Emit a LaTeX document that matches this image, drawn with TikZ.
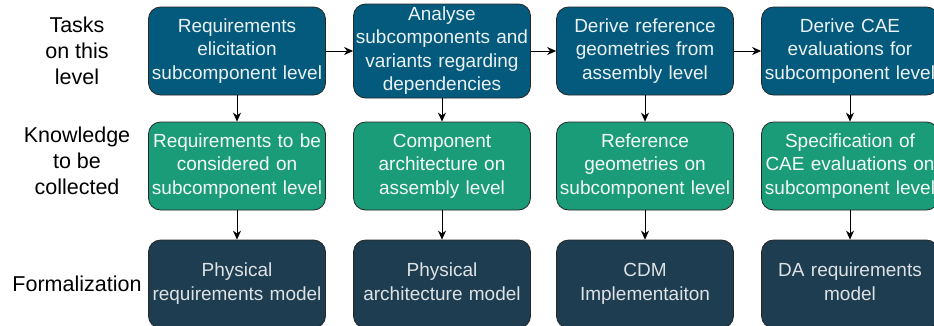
\documentclass[tikz,border=0pt]{standalone}
\usepackage{fontspec}
\setmainfont{Liberation Sans}
\usetikzlibrary{arrows.meta}
\definecolor{taskblue}{HTML}{045A7C}
\definecolor{knowgreen}{HTML}{1B9C78}
\definecolor{formnavy}{HTML}{1E3D51}
\begin{document}
\begin{tikzpicture}[x=1pt,y=-1pt,
    box/.style={draw=black!85,line width=0.8pt,rounded corners=12pt,
      minimum width=175pt,minimum height=88pt,inner sep=0pt,
      text width=177pt,align=center,font=\fontsize{19}{23.5}\selectfont,
      execute at begin node=\strut,execute at end node=\strut},
    task/.style={box,fill=taskblue,text=white!92!taskblue},
    know/.style={box,fill=knowgreen,text=white!95!knowgreen},
    form/.style={box,fill=formnavy,text=white!85!formnavy},
    rowlabel/.style={align=center,font=\fontsize{21.5}{26}\selectfont},
    flow/.style={-{Stealth[length=9pt,width=8pt]},line width=0.8pt}]
  \useasboundingbox (0,0) rectangle (934,325);
  \draw
    (77,51) node[rowlabel] (lt){Tasks\\on this\\level}
    (77,161) node[rowlabel] (lk){Knowledge\\to be\\collected}
    (77,284) node[rowlabel] (lf){Formalization};
  \draw
    (237,51) node[task] (t1){Requirements\\elicitation\\subcomponent level}
    (442,51) node[task] (t2){Analyse\\subcomponents and\\variants regarding\\dependencies}
    (645,51) node[task] (t3){Derive reference\\geometries from\\assembly level}
    (850,51) node[task] (t4){Derive CAE\\evaluations for\\subcomponent level};
  \draw
    (237,166) node[know] (k1){Requirements to be\\considered on\\subcomponent level}
    (442,166) node[know] (k2){Component\\architecture on\\assembly level}
    (645,166) node[know] (k3){Reference\\geometries on\\subcomponent level}
    (850,166) node[know] (k4){Specification of\\CAE evaluations on\\subcomponent level};
  \draw
    (237,284) node[form] (f1){Physical\\requirements model}
    (442,284) node[form] (f2){Physical\\architecture model}
    (645,284) node[form] (f3){CDM\\Implementaiton}
    (850,284) node[form] (f4){DA requirements\\model};
  \begin{scope}[flow]
    \draw (t1) to (t2);
    \draw (t2) to (t3);
    \draw (t3) to (t4);
    \draw (t1) to (k1);
    \draw (t2) to (k2);
    \draw (t3) to (k3);
    \draw (t4) to (k4);
    \draw (k1) to (f1);
    \draw (k2) to (f2);
    \draw (k3) to (f3);
    \draw (k4) to (f4);
  \end{scope}
\end{tikzpicture}
\end{document}
